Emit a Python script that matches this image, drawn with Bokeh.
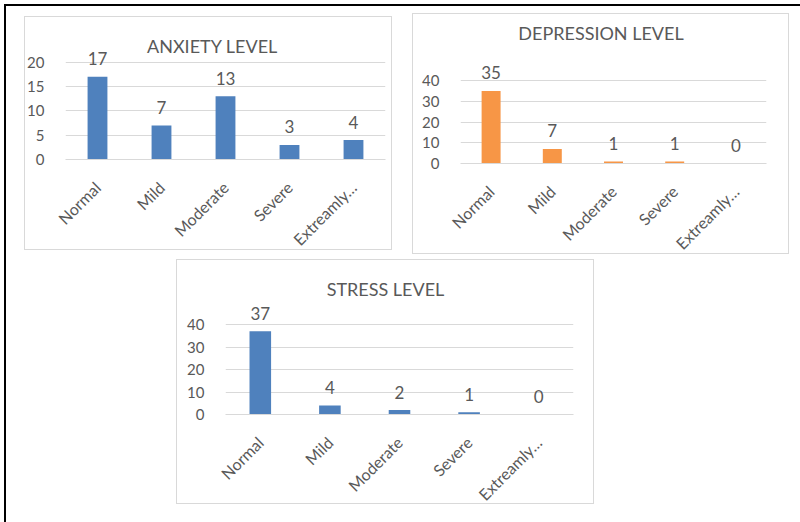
import math

from bokeh.core.properties import value
from bokeh.embed import file_html
from bokeh.layouts import column, row
from bokeh.models import (ColumnDataSource, FactorRange, FixedTicker, Label,
                          LabelSet, Range1d)
from bokeh.plotting import figure
from bokeh.resources import INLINE

# Survey results: number of respondents at each level
categories = ["Normal", "Mild", "Moderate", "Severe", "Extreamly…"]
anxiety = [17, 7, 13, 3, 4]
depression = [35, 7, 1, 1, 0]
stress = [37, 4, 2, 1, 0]

anxiety_ticks = [0, 5, 10, 15, 20]
depression_ticks = [0, 10, 20, 30, 40]
stress_ticks = [0, 10, 20, 30, 40]

BLUE = "#4f81bd"
ORANGE = "#f79646"
TEXT = "#595959"
GRID = "#d9d9d9"
FONT = "Lato"
SPARE = 16  # spare room below the category labels, outside the card


def card_background(w, h):
    """White card of w x h px with a thin grey border, painted by CSS."""
    line = f"linear-gradient({GRID},{GRID})"
    return ", ".join([
        f"{line} 0 0 / {w}px 1px no-repeat",
        f"{line} 0 {h - 1}px / {w}px 1px no-repeat",
        f"{line} 0 0 / 1px {h}px no-repeat",
        f"{line} {w - 1}px 0 / 1px {h}px no-repeat",
        f"linear-gradient(#ffffff,#ffffff) 0 0 / {w}px {h}px no-repeat",
    ])


def level_chart(title, values, ticks, color, width, height, left, right,
                bottom, grid_top, title_y, margin):
    """Column chart in a bordered card; the plot area runs to the card top.

    grid_top: distance in px from the card top to the highest gridline.
    title_y:  distance in px from the card top to the title's middle.
    bottom:   distance in px from the zero line to the card bottom.
    """
    frame_h = height - bottom
    # stretch the value axis so the top tick lands grid_top px below the edge
    y_end = ticks[-1] * frame_h / (frame_h - grid_top)
    top_m, right_m, bottom_m, left_m = margin
    p = figure(
        title=None,
        x_range=FactorRange(*categories),
        y_range=Range1d(0, y_end),
        width=width, height=height + SPARE,
        output_backend="svg", toolbar_location=None,
        min_border_left=left, min_border_right=right,
        min_border_top=0, min_border_bottom=bottom + SPARE,
        background_fill_color=None, border_fill_color=None,
        outline_line_color=None,
        margin=(top_m, right_m, bottom_m - SPARE, left_m),
    )
    p.styles = {"background": card_background(width, height)}

    src = ColumnDataSource(dict(cat=categories, val=values,
                                txt=[str(v) for v in values]))
    p.vbar(x="cat", top="val", width=0.31, source=src,
           fill_color=color, line_color=None)
    p.add_layout(LabelSet(x="cat", y="val", text="txt", source=src,
                          y_offset=18, text_align="center",
                          text_baseline="middle", text_font=value(FONT),
                          text_font_size="17px", text_color=TEXT))

    # chart title, centred on the whole card
    p.add_layout(Label(x=width / 2 - left, y=frame_h - title_y,
                       x_units="screen", y_units="screen", text=title,
                       text_align="center", text_baseline="middle",
                       text_font=FONT, text_font_size="18px",
                       text_color=TEXT))

    p.xgrid.grid_line_color = None
    p.ygrid.grid_line_color = GRID
    p.ygrid.ticker = FixedTicker(ticks=ticks)

    yax = p.yaxis[0]
    yax.ticker = FixedTicker(ticks=ticks)
    yax.axis_line_color = None
    yax.major_tick_line_color = None
    yax.minor_tick_line_color = None
    yax.major_label_standoff = 15
    yax.major_label_text_font = FONT
    yax.major_label_text_font_size = "15px"
    yax.major_label_text_color = TEXT

    xax = p.xaxis[0]
    xax.axis_line_color = GRID
    xax.major_tick_line_color = None
    xax.minor_tick_line_color = None
    xax.major_label_orientation = math.pi / 4
    xax.major_label_standoff = 19
    xax.major_label_text_font = FONT
    xax.major_label_text_font_size = "16px"
    xax.major_label_text_color = TEXT
    return p


p1 = level_chart("ANXIETY LEVEL", anxiety, anxiety_ticks, BLUE,
                 368, 234, 37, 7, 90, 46, 30, (10, 0, 0, 18))
p2 = level_chart("DEPRESSION LEVEL", depression, depression_ticks, ORANGE,
                 377, 241, 48, 23, 91, 67, 19, (7, 11, 0, 20))
p3 = level_chart("STRESS LEVEL", stress, stress_ticks, BLUE,
                 418, 245, 49, 21, 90, 65, 29, (5, 0, 18, 170))

page = column(row(p1, p2), p3, margin=(4, 0, 0, 4))
page.styles = {"border-top": "2px solid #000000",
               "border-left": "2px solid #000000"}

open("out.html", "w").write(file_html(page, INLINE))
